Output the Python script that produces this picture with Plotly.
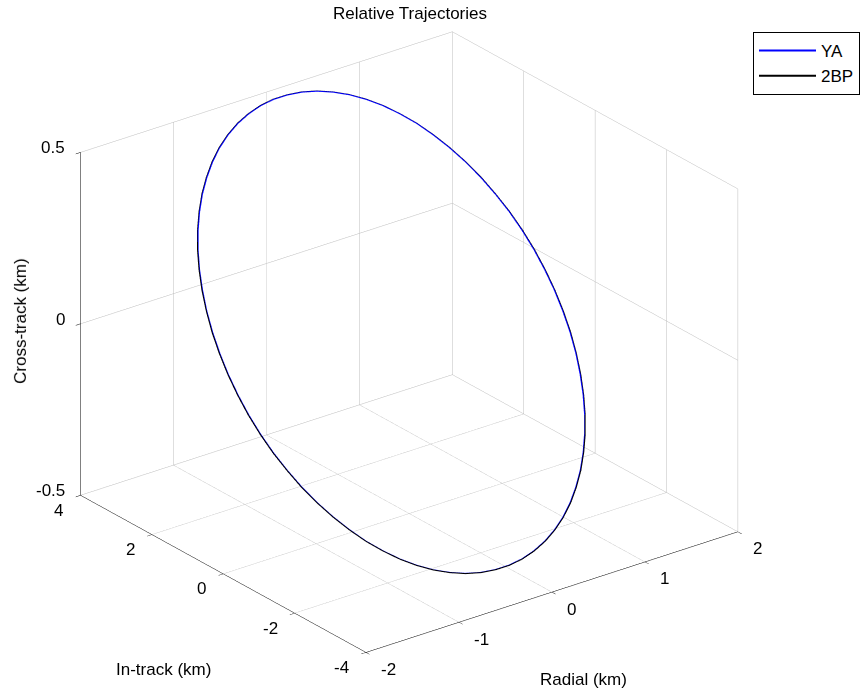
import plotly.graph_objects as go

# Relative trajectory samples (km), every 5 degrees of orbit phase
radial_ya = [1.650, 1.644, 1.625, 1.594, 1.551, 1.495, 1.429, 1.352, 1.264, 1.167, 1.061, 0.946,
             0.825, 0.697, 0.564, 0.427, 0.286, 0.144, 0.000,
             -0.144, -0.286, -0.427, -0.564, -0.697, -0.825, -0.946, -1.061, -1.167, -1.264,
             -1.352, -1.429, -1.495, -1.551, -1.594, -1.625, -1.644, -1.650,
             -1.644, -1.625, -1.594, -1.551, -1.495, -1.429, -1.352, -1.264, -1.167, -1.061,
             -0.946, -0.825, -0.697, -0.564, -0.427, -0.286, -0.144, 0.000,
             0.144, 0.286, 0.427, 0.564, 0.697, 0.825, 0.946, 1.061, 1.167, 1.264,
             1.352, 1.429, 1.495, 1.551, 1.594, 1.625, 1.644, 1.650]
intrack_ya = [0.500, 0.212, -0.073, -0.354, -0.629, -0.895, -1.150, -1.393, -1.621, -1.833, -2.028,
              -2.203, -2.358, -2.491, -2.601, -2.687, -2.750, -2.787, -2.800,
              -2.787, -2.750, -2.687, -2.601, -2.491, -2.358, -2.203, -2.028, -1.833, -1.621,
              -1.393, -1.150, -0.895, -0.629, -0.354, -0.073, 0.212, 0.500,
              0.788, 1.073, 1.354, 1.629, 1.895, 2.150, 2.393, 2.621, 2.833, 3.028,
              3.203, 3.358, 3.491, 3.601, 3.687, 3.750, 3.787, 3.800,
              3.787, 3.750, 3.687, 3.601, 3.491, 3.358, 3.203, 3.028, 2.833, 2.621,
              2.393, 2.150, 1.895, 1.629, 1.354, 1.073, 0.788, 0.500]
crosstrack_ya = [0.037, -0.006, -0.049, -0.091, -0.133, -0.174, -0.213, -0.251, -0.287, -0.320,
                 -0.352, -0.380, -0.406, -0.429, -0.448, -0.464, -0.476, -0.485, -0.490,
                 -0.491, -0.489, -0.483, -0.473, -0.460, -0.443, -0.423, -0.399, -0.373, -0.343,
                 -0.311, -0.277, -0.241, -0.202, -0.163, -0.122, -0.080, -0.037,
                 0.006, 0.049, 0.091, 0.133, 0.174, 0.213, 0.251, 0.287, 0.320, 0.352,
                 0.380, 0.406, 0.429, 0.448, 0.464, 0.476, 0.485, 0.490,
                 0.491, 0.489, 0.483, 0.473, 0.460, 0.443, 0.423, 0.399, 0.373, 0.343,
                 0.311, 0.277, 0.241, 0.202, 0.163, 0.122, 0.080, 0.037]

radial_2bp = [1.655, 1.649, 1.630, 1.599, 1.555, 1.500, 1.433, 1.356, 1.268, 1.170, 1.064, 0.949,
              0.828, 0.699, 0.566, 0.428, 0.287, 0.144, 0.000,
              -0.144, -0.287, -0.428, -0.566, -0.699, -0.828, -0.949, -1.064, -1.170, -1.268,
              -1.356, -1.433, -1.500, -1.555, -1.599, -1.630, -1.649, -1.655,
              -1.649, -1.630, -1.599, -1.555, -1.500, -1.433, -1.356, -1.268, -1.170, -1.064,
              -0.949, -0.828, -0.699, -0.566, -0.428, -0.287, -0.144, 0.000,
              0.144, 0.287, 0.428, 0.566, 0.699, 0.828, 0.949, 1.064, 1.170, 1.268,
              1.356, 1.433, 1.500, 1.555, 1.599, 1.630, 1.649, 1.655]
intrack_2bp = [0.500, 0.212, -0.075, -0.357, -0.632, -0.899, -1.155, -1.399, -1.628, -1.841, -2.036,
               -2.211, -2.367, -2.500, -2.610, -2.697, -2.760, -2.797, -2.810,
               -2.797, -2.760, -2.697, -2.610, -2.500, -2.367, -2.211, -2.036, -1.841, -1.628,
               -1.399, -1.155, -0.899, -0.632, -0.357, -0.075, 0.212, 0.500,
               0.788, 1.075, 1.357, 1.632, 1.899, 2.155, 2.399, 2.628, 2.841, 3.036,
               3.211, 3.367, 3.500, 3.610, 3.697, 3.760, 3.797, 3.810,
               3.797, 3.760, 3.697, 3.610, 3.500, 3.367, 3.211, 3.036, 2.841, 2.628,
               2.399, 2.155, 1.899, 1.632, 1.357, 1.075, 0.788, 0.500]
crosstrack_2bp = [0.037, -0.006, -0.049, -0.091, -0.133, -0.174, -0.213, -0.251, -0.287, -0.320,
                  -0.352, -0.380, -0.406, -0.429, -0.448, -0.464, -0.476, -0.485, -0.490,
                  -0.491, -0.489, -0.483, -0.473, -0.460, -0.443, -0.423, -0.399, -0.373, -0.343,
                  -0.311, -0.277, -0.241, -0.202, -0.163, -0.122, -0.080, -0.037,
                  0.006, 0.049, 0.091, 0.133, 0.174, 0.213, 0.251, 0.287, 0.320, 0.352,
                  0.380, 0.406, 0.429, 0.448, 0.464, 0.476, 0.485, 0.490,
                  0.491, 0.489, 0.483, 0.473, 0.460, 0.443, 0.423, 0.399, 0.373, 0.343,
                  0.311, 0.277, 0.241, 0.202, 0.163, 0.122, 0.080, 0.037]

radial_ticks = [-2, -1, 0, 1, 2]
intrack_ticks = [-4, -2, 0, 2, 4]
crosstrack_ticks = [-0.5, 0, 0.5]

radial_range = [-2, 2]
intrack_range = [-4, 4]
crosstrack_range = [-0.5, 0.5]

FONT = "Liberation Sans, Arial, sans-serif"
FS = 17


def axis(rng, ticks):
    return dict(
        title=dict(text=""),
        range=rng,
        autorange=False,
        tickvals=ticks,
        showticklabels=False,
        showgrid=True,
        gridcolor="#bdbdbd",
        gridwidth=1,
        showline=True,
        linecolor="black",
        linewidth=1,
        ticks="outside",
        ticklen=6,
        tickcolor="black",
        showbackground=False,
        zeroline=False,
        showspikes=False,
    )


def label(v):
    return "%g" % v


# Tick labels kept upright, anchored to the tick positions on the front edges
tick_annots = []
for v in radial_ticks:
    tick_annots.append(dict(x=v, y=intrack_range[0], z=crosstrack_range[0], text=label(v),
                            showarrow=False, xanchor="left", yanchor="middle",
                            xshift=13, yshift=-17,
                            font=dict(family=FONT, size=FS, color="black")))
for v in intrack_ticks:
    tick_annots.append(dict(x=radial_range[0], y=v, z=crosstrack_range[0], text=label(v),
                            showarrow=False, xanchor="right", yanchor="middle",
                            xshift=-15, yshift=-15,
                            font=dict(family=FONT, size=FS, color="black")))
for v in crosstrack_ticks:
    tick_annots.append(dict(x=radial_range[0], y=intrack_range[1], z=v, text=label(v),
                            showarrow=False, xanchor="right", yanchor="middle",
                            xshift=-13, yshift=4.5,
                            font=dict(family=FONT, size=FS, color="black")))

fig = go.Figure()
fig.add_trace(go.Scatter3d(
    x=radial_ya, y=intrack_ya, z=crosstrack_ya, mode="lines", name="YA",
    line=dict(color="#0000ff", width=2)))
fig.add_trace(go.Scatter3d(
    x=radial_2bp, y=intrack_2bp, z=crosstrack_2bp, mode="lines", name="2BP",
    line=dict(color="#000000", width=2)))

# View: azimuth -37.5 deg, orthographic; box scale set through the aspect ratio
view_dir = (-0.552, -0.719, 0.4226)
cen = (0.0418, -0.0373, -0.0089)
r = 1.8
k = 1.357

fig.update_layout(
    width=860, height=691,
    margin=dict(l=0, r=0, t=0, b=0),
    paper_bgcolor="white",
    font=dict(family=FONT, size=FS, color="black"),
    hovermode=False,
    title=dict(text="Relative Trajectories", x=410 / 860, xanchor="center",
               y=1 - 13 / 691, yanchor="middle",
               font=dict(family=FONT, size=FS, color="black")),
    legend=dict(x=756 / 860, y=1 - 32 / 691, xanchor="left", yanchor="top",
                bordercolor="black", borderwidth=1, bgcolor="white",
                itemwidth=57,
                font=dict(family=FONT, size=FS, color="black")),
    scene=dict(
        domain=dict(x=[0, 1], y=[0, 1]),
        bgcolor="white",
        xaxis=axis(radial_range, radial_ticks),
        yaxis=axis(intrack_range, intrack_ticks),
        zaxis=axis(crosstrack_range, crosstrack_ticks),
        aspectmode="manual",
        aspectratio=dict(x=k, y=k, z=0.807 * k),
        camera=dict(
            projection=dict(type="orthographic"),
            up=dict(x=0, y=0, z=1),
            center=dict(x=cen[0], y=cen[1], z=cen[2]),
            eye=dict(x=cen[0] + view_dir[0] * r, y=cen[1] + view_dir[1] * r,
                     z=cen[2] + view_dir[2] * r),
        ),
        annotations=tick_annots,
    ),
    annotations=[
        dict(text="In-track (km)", x=164 / 860, y=1 - 669 / 691, xref="paper", yref="paper",
             xanchor="center", yanchor="middle", showarrow=False,
             font=dict(family=FONT, size=FS, color="black")),
        dict(text="Radial (km)", x=586 / 860, y=1 - 679 / 691, xref="paper", yref="paper",
             xanchor="center", yanchor="middle", showarrow=False,
             font=dict(family=FONT, size=FS, color="black")),
        dict(text="Cross-track (km)", x=20 / 860, y=1 - 321 / 691, xref="paper", yref="paper",
             xanchor="center", yanchor="middle", showarrow=False, textangle=-90,
             font=dict(family=FONT, size=FS, color="black")),
    ],
)

fig.write_html("out.html")
